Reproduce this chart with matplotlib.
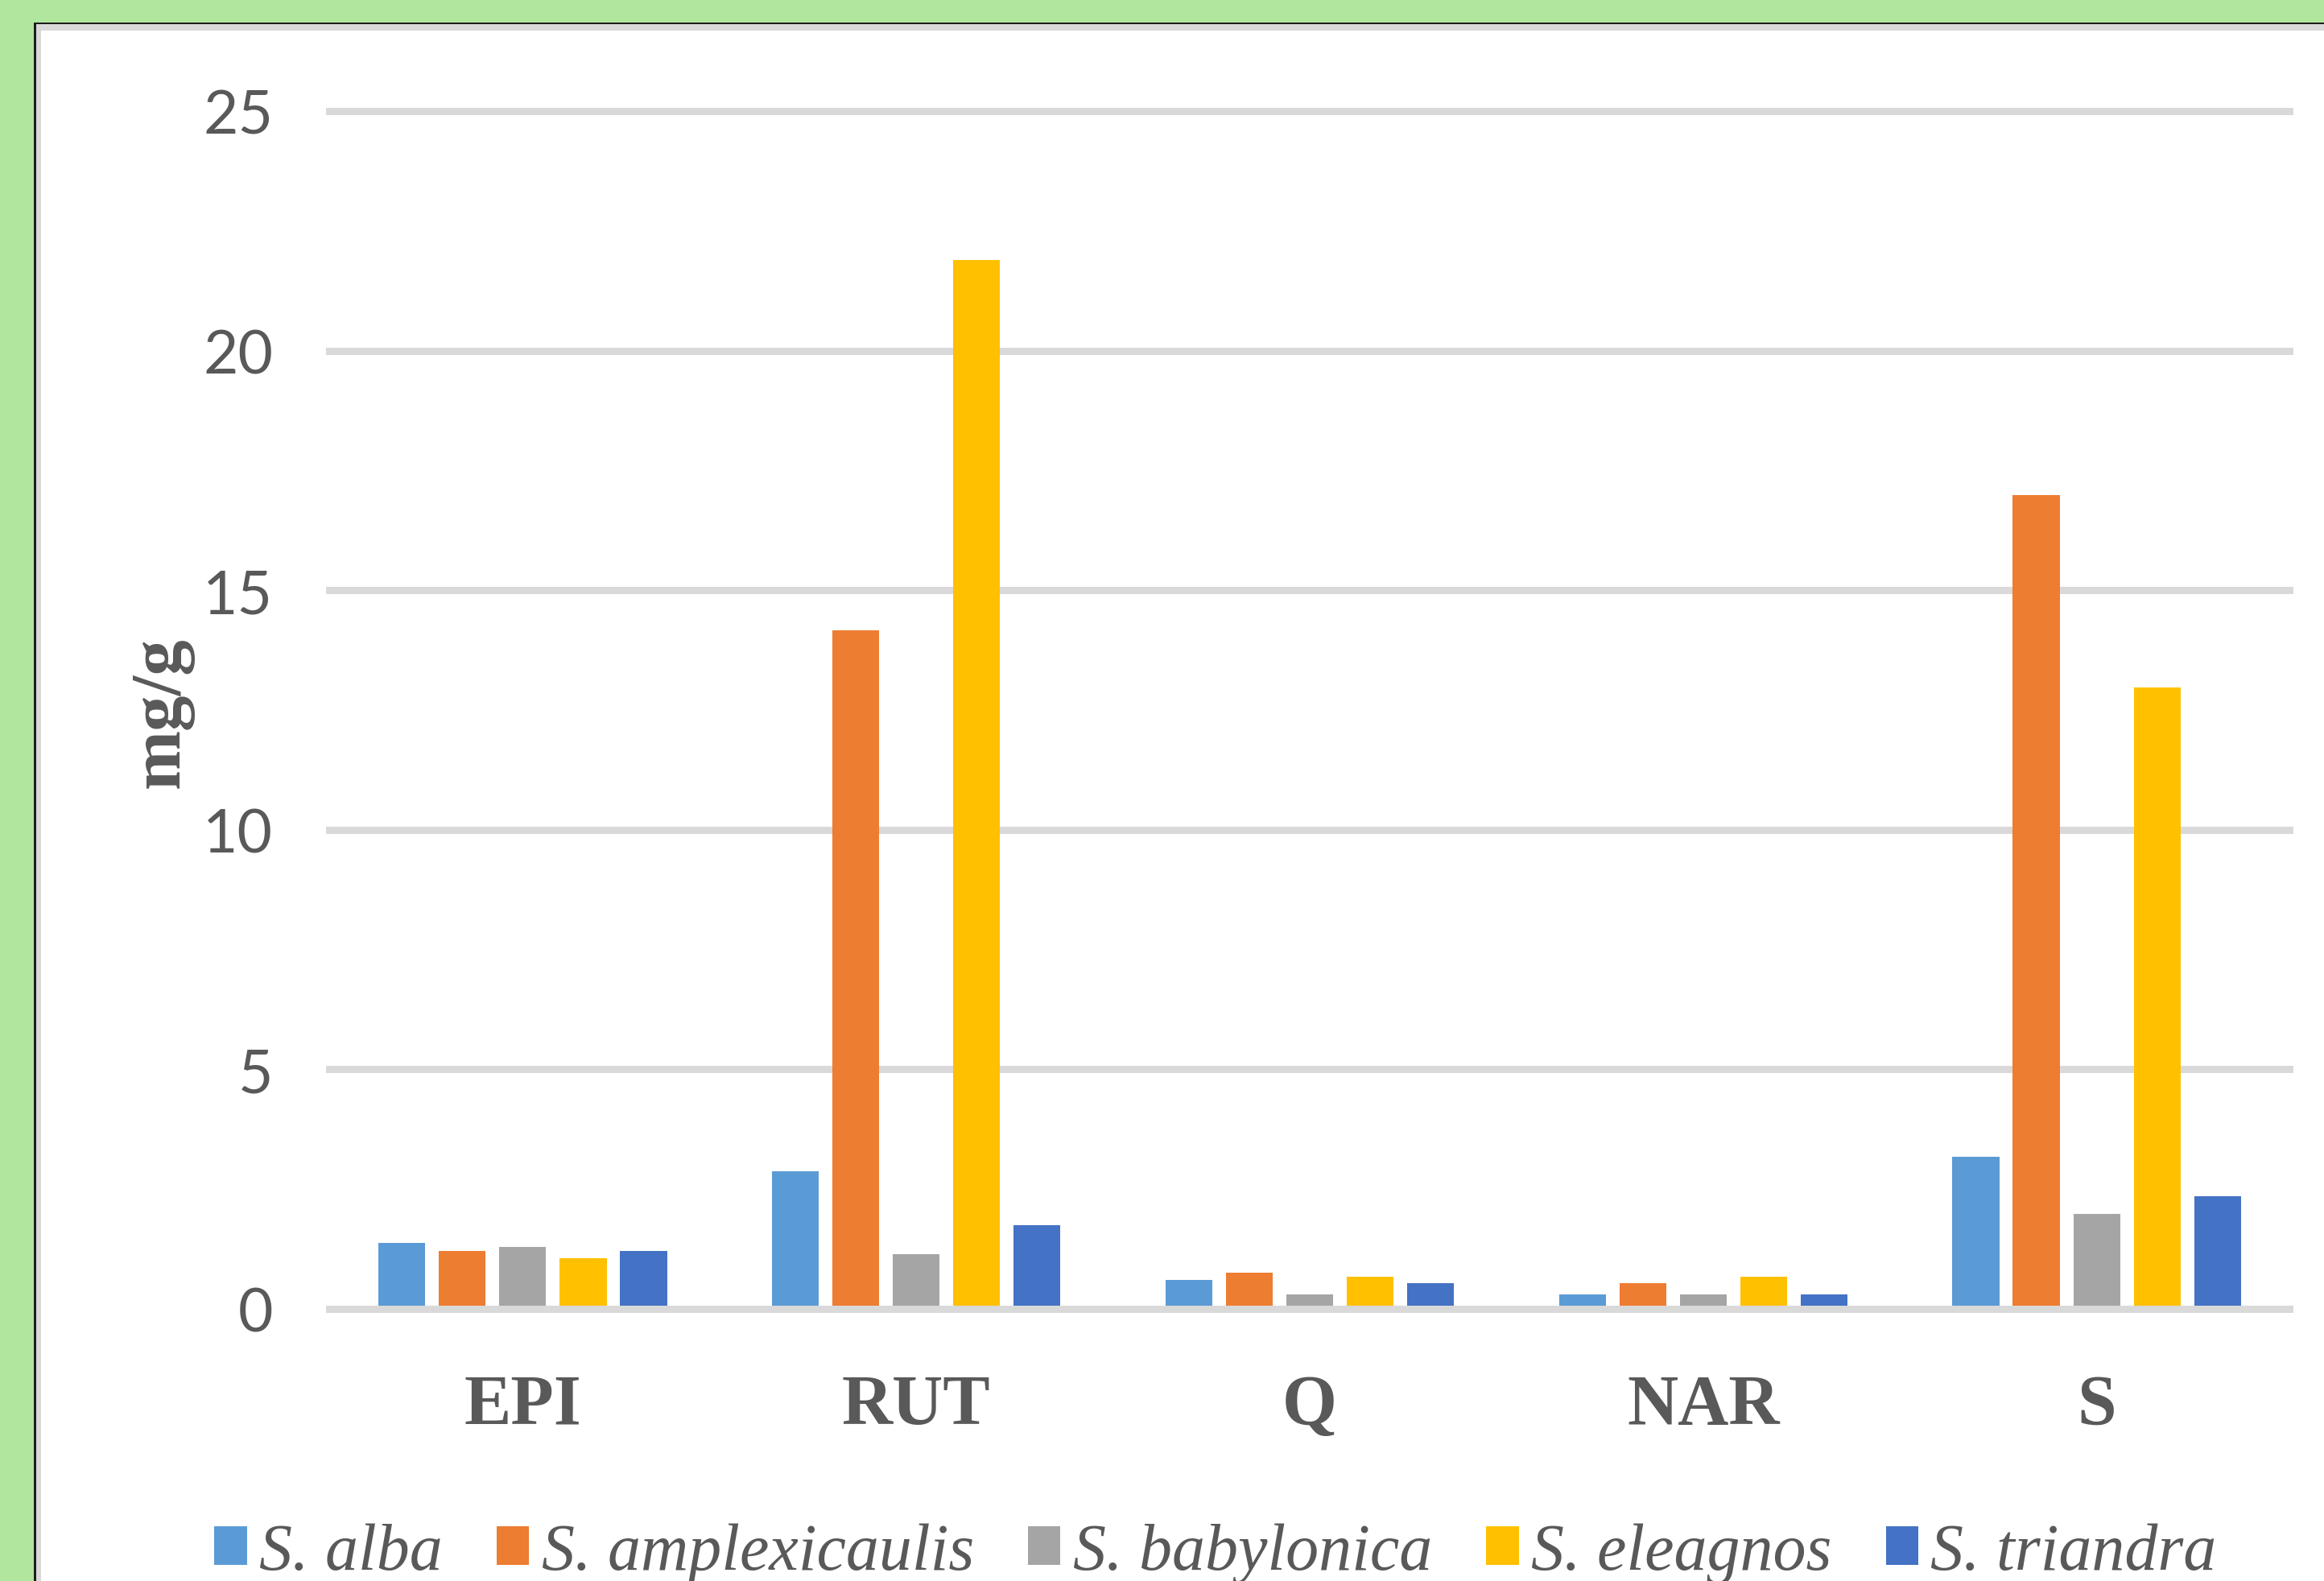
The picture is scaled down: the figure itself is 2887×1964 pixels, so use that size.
import matplotlib
matplotlib.use("Agg")
import matplotlib.pyplot as plt
from matplotlib.patches import Rectangle
import numpy as np

# ---- data ----
categories = ["EPI", "RUT", "Q", "NAR", "S"]
series_names = ["S. alba", "S. amplexicaulis", "S. babylonica", "S. eleagnos", "S. triandra"]
alba = [1.37, 2.88, 0.61, 0.31, 3.18]
amplexicaulis = [1.21, 14.17, 0.76, 0.53, 16.98]
babylonica = [1.30, 1.15, 0.31, 0.31, 1.98]
eleagnos = [1.06, 21.90, 0.67, 0.68, 12.97]
triandra = [1.21, 1.75, 0.53, 0.31, 2.36]
y_ticks = [0, 5, 10, 15, 20, 25]
y_label = "mg/g"

colors = ["#5B9BD5", "#ED7D31", "#A5A5A5", "#FFC000", "#4472C4"]
all_series = [alba, amplexicaulis, babylonica, eleagnos, triandra]

W, H = 2887, 1965
DPI = 100
fig = plt.figure(figsize=(W / DPI, H / DPI), dpi=DPI)
fig.patch.set_facecolor("#B1E69E")


def fx(px):
    return px / W


def fy(py):
    return 1 - py / H


def px2pt(px):
    return px * 72 / DPI


# panel frame: black edge, light gray inner band, white face
for (x0, y0, col) in [(42, 29, "#1E1E1E"), (45, 31, "#D9D9D9"), (51, 39, "white")]:
    fig.add_artist(Rectangle((fx(x0), fy(H + 50)), fx(W + 50 - x0), fy(y0) - fy(H + 50),
                             transform=fig.transFigure, facecolor=col, edgecolor="none",
                             zorder=0))

# axes placement: 0 at y=1627 px, 25 at y=139 px; x from 405 to 2849 px
ppu = (1627 - 139) / 25.0
ymin, ymax = -0.5, 25.5
ax_bottom_px = 1627 + (0 - ymin) * ppu
ax_top_px = 139 - (ymax - 25) * ppu
ax = fig.add_axes([fx(405), fy(ax_bottom_px), fx(2849 - 405), (ax_bottom_px - ax_top_px) / H])
ax.set_facecolor("none")
ax.set_xlim(-0.5, len(categories) - 0.5)
ax.set_ylim(ymin, ymax)

x = np.arange(len(categories))
pitch = 0.1535
width = 0.119
for i, (vals, col, name) in enumerate(zip(all_series, colors, series_names)):
    ax.bar(x + (i - 2) * pitch, vals, width=width, color=col, label=name, zorder=2)

grid_lw = px2pt(9)
ax.set_axisbelow(True)
ax.yaxis.grid(True, color="#D9D9D9", linewidth=grid_lw)
ax.axhline(0, color="#D9D9D9", linewidth=grid_lw, zorder=3)
for s in ax.spines.values():
    s.set_visible(False)

ax.set_yticks(y_ticks)
ax.set_yticklabels([str(t) for t in y_ticks],
                   fontfamily=["Lato", "DejaVu Sans"], fontweight="normal", fontsize=54,
                   color="#595959")
ax.tick_params(axis="y", length=0, pad=px2pt(66))

ax.set_xticks(x)
ax.set_xticklabels(categories, fontfamily="Liberation Serif", fontweight="bold",
                   fontsize=63, color="#595959")
ax.tick_params(axis="x", length=0, pad=px2pt(50))

fig.text(fx(200), fy(885), y_label, rotation=90, ha="center", va="center",
         fontfamily="Liberation Serif", fontweight="bold", fontsize=64, color="#595959")

handles, labels = ax.get_legend_handles_labels()
leg = fig.legend(handles, labels, loc="center", bbox_to_anchor=(fx(1510), fy(1930)),
                 ncol=5, frameon=False,
                 prop={"family": "Liberation Serif", "style": "italic", "size": 59},
                 handlelength=0.49, handleheight=0.53, handletextpad=0.19,
                 columnspacing=0.82, borderpad=0, borderaxespad=0)
for t in leg.get_texts():
    t.set_color("#595959")

fig.savefig("out.png", dpi=DPI, facecolor=fig.get_facecolor())
